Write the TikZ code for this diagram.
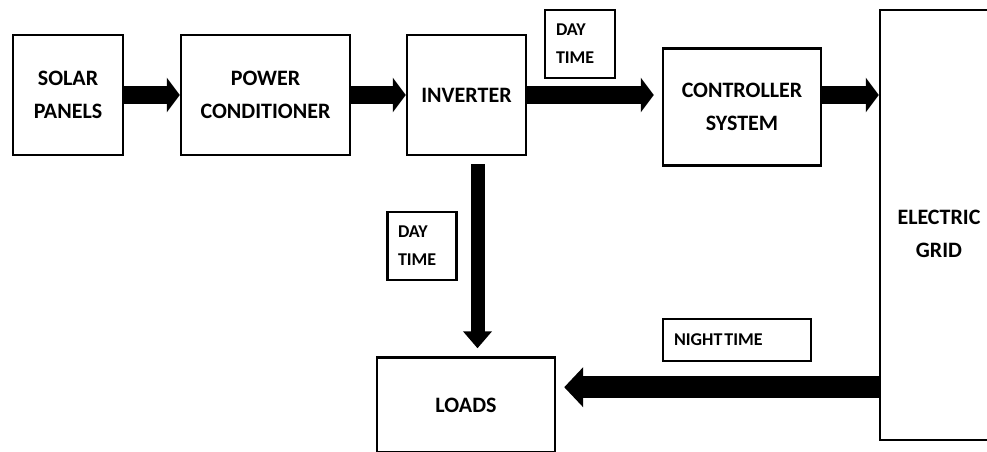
\documentclass[tikz,border=0pt]{standalone}
\usepackage{fontspec}
\setmainfont{Carlito}
\usetikzlibrary{arrows.meta,calc}
\begin{document}
\begin{tikzpicture}[x=1pt,y=-1pt,
  blk/.style={draw=black,line width=2.4pt,rectangle,inner sep=0pt,align=center,
    font=\fontsize{22}{33}\selectfont\bfseries},
  lbl/.style={draw=black,line width=2.4pt,rectangle,inner sep=0pt,align=left,
    font=\fontsize{18}{28}\selectfont\bfseries},
  fat/.style={line width=18pt,-{Triangle[length=13pt,width=34pt]}},
  thin/.style={line width=14pt,-{Triangle[length=17pt,width=28pt]}},
  big/.style={line width=22pt,-{Triangle[length=19pt,width=39pt]}}]
\useasboundingbox (0,0) rectangle (987,452);
\clip (0,0) rectangle (987,452);
\fill[white] (0,0) rectangle (987,452);
\node[blk,minimum width=110pt,minimum height=120pt] (solar) at (68,95) {SOLAR\\PANELS};
\node[blk,minimum width=169pt,minimum height=120pt] (power) at (265.5,95) {POWER\\CONDITIONER};
\node[blk,minimum width=119pt,minimum height=120pt] (inv) at (466.5,95) {INVERTER};
\node[lbl,minimum width=70pt,minimum height=68pt,text width=48pt] (day1) at (580,44) {DAY\\TIME};
\node[blk,minimum width=158pt,minimum height=117pt] (ctrl) at (742,107) {CONTROLLER\\SYSTEM};
\node[draw=black,line width=2.4pt,minimum width=118pt,minimum height=430pt,inner sep=0pt] (grid) at (939,225) {};
\node[font=\fontsize{22}{33}\selectfont\bfseries,align=center] (gridtxt) at (939,234) {ELECTRIC\\GRID};
\node[lbl,minimum width=69pt,minimum height=68pt,text width=48pt] (day2) at (422,246) {DAY\\TIME};
\node[blk,minimum width=178pt,minimum height=95pt] (loads) at (466,405) {LOADS};
\node[lbl,minimum height=42pt,text width=126pt,inner xsep=11pt] (night) at (737,340) {NIGHT\kern2pt TIME};
\coordinate (nA) at ($(grid.west |- night.south)+(0,25)$);
\draw[fat] (solar.east) -- (power.west);
\draw[fat] (power.east) -- (inv.west);
\draw[fat,shorten >=8pt] (inv.east) -- (ctrl.west |- inv.east);
\draw[fat] (ctrl.east |- inv.east) -- (grid.west |- inv.east);
\draw[thin,shorten <=8pt,shorten >=8pt] ([xshift=11pt]inv.south) -- ([xshift=11pt]inv.south |- loads.north);
\draw[big,shorten >=8pt] (nA) -- (loads.east |- nA);
\end{tikzpicture}
\end{document}
